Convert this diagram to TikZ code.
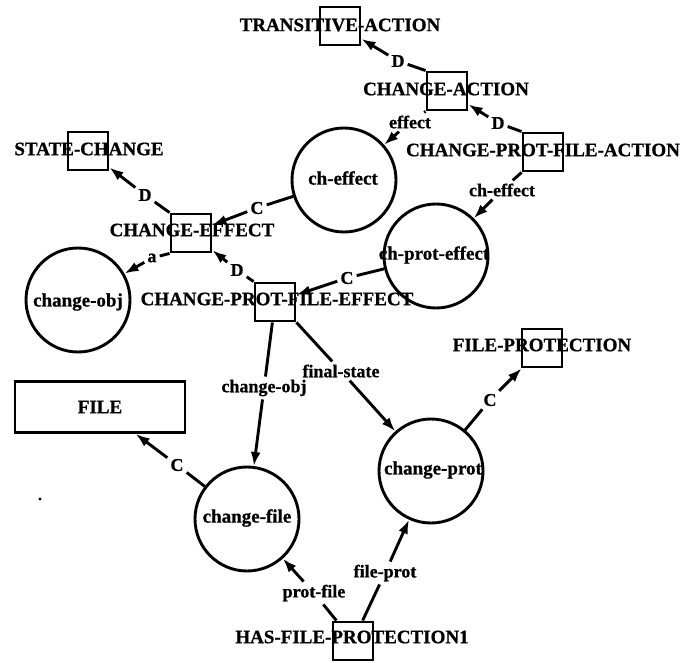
\documentclass[tikz,border=0pt]{standalone}
\usepackage{fontspec}
\setmainfont{Liberation Serif}[BoldFeatures={FakeBold=0.8}]
\usetikzlibrary{arrows.meta}
\begin{document}
\begin{tikzpicture}[x=1pt,y=-1pt,
  conc/.style={draw,line width=2.9pt,minimum width=40pt,minimum height=38pt,inner sep=0pt},
  rel/.style={draw,circle,line width=2.9pt,minimum size=104pt,inner sep=0pt},
  caps/.style={font=\fontsize{19}{19}\selectfont\bfseries,inner sep=0pt},
  ctext/.style={font=\fontsize{19}{19}\selectfont\bfseries,inner sep=0pt},
  elab/.style={font=\fontsize{18}{18}\selectfont\bfseries,inner sep=3pt},
  ln/.style={line width=2.9pt},
  arr/.style={line width=2.9pt,-{Latex[length=14pt,width=10pt]}},
]
\fill[white] (0,0) rectangle (685,663);
\useasboundingbox (0,0) rectangle (685,663);

% concept boxes
\node[conc] (ta) at (340,26) {};
\node[caps] (ta-t) at (340,25) {TRANSITIVE-ACTION};
\node[conc] (ca) at (447,91) {};
\node[caps] (ca-t) at (446,89) {CHANGE-ACTION};
\node[conc] (cpfa) at (543,152) {};
\node[caps] (cpfa-t) at (543,150) {CHANGE-PROT-FILE-ACTION};
\node[conc] (sc) at (88,151) {};
\node[caps] (sc-t) at (89,149) {STATE-CHANGE};
\node[conc] (ce) at (191,233) {};
\node[caps] (ce-t) at (192,230) {CHANGE-EFFECT};
\node[conc] (cpfe) at (275,302) {};
\node[caps] (cpfe-t) at (277,299) {CHANGE-PROT-FILE-EFFECT};
\node[conc] (fp) at (542,348) {};
\node[caps] (fp-t) at (542,345) {FILE-PROTECTION};
\node[conc] (hfp) at (353,641) {};
\node[caps] (hfp-t) at (352,637) {HAS-FILE-PROTECTION1};
\node[draw,line width=2.9pt,minimum width=170pt,minimum height=51pt,inner sep=0pt,
      font=\fontsize{19}{19}\selectfont\bfseries] (file) at (100,407) {FILE};

% relation circles
\node[rel] (che) at (344,180) {};
\node[ctext] (che-t) at (343,178) {ch-effect};
\node[rel] (chpe) at (436,256) {};
\node[ctext] (chpe-t) at (434,255) {ch-prot-effect};
\node[rel] (cobj) at (78,300) {};
\node[ctext] (cobj-t) at (78,302) {change-obj};
\node[rel] (cfile) at (247,519) {};
\node[ctext] (cfile-t) at (247,518) {change-file};
\node[rel] (cprot) at (431,471) {};
\node[ctext] (cprot-t) at (433,470) {change-prot};

% edge labels
\node[elab] (l1) at (398,61) {D};
\node[elab] (l2) at (498,123) {D};
\node[elab] (l3) at (410,122) {effect};
\node[elab] (l4) at (502,190) {ch-effect};
\node[elab] (l5) at (257,208) {C};
\node[elab] (l6) at (145,195) {D};
\node[elab] (l7) at (152,258) {a};
\node[elab] (l8) at (237,270) {D};
\node[elab] (l9) at (347,278) {C};
\node[elab] (l10) at (264,388) {change-obj};
\node[elab] (l11) at (341,371) {final-state};
\node[elab] (l12) at (490,400) {C};
\node[elab] (l13) at (177,465) {C};
\node[elab] (l14) at (314,593) {prot-file};
\node[elab] (l15) at (385,573) {file-prot};

% connectors
\draw[ln] (ca.north west) -- (l1);   \draw[arr] (l1) -- (ta);
\draw[ln] (cpfa.north west) -- (l2); \draw[arr] (l2) -- (ca);
\draw[ln] (ca.south west) -- (l3);   \draw[arr] (l3) -- (che);
\draw[ln] (cpfa.south west) -- (l4); \draw[arr] (l4) -- (chpe);
\draw[ln] (che) -- (l5);             \draw[arr] (l5) -- (ce);
\draw[ln] (ce.north west) -- (l6);   \draw[arr] (l6) -- (sc);
\draw[ln] (ce.south west) -- (l7);   \draw[arr] (l7) -- (cobj);
\draw[ln] (cpfe.north west) -- (l8); \draw[arr] (l8) -- (ce);
\draw[ln] (chpe) -- (l9);            \draw[arr] (l9) -- (cpfe);
\draw[ln] (cpfe) -- (l10);           \draw[arr] (l10) -- (cfile);
\draw[ln] (cpfe.south east) -- (l11);\draw[arr] (l11) -- (cprot);
\draw[ln] (cprot) -- (l12);          \draw[arr] (l12) -- (fp);
\draw[ln] (cfile) -- (l13);          \draw[arr] (l13) -- (file);
\draw[ln] (hfp) -- (l14);            \draw[arr] (l14) -- (cfile);
\draw[ln] (hfp) -- (l15);            \draw[arr] (l15) -- (cprot);

% stray mark
\fill (40,499) circle (1.6pt);
\end{tikzpicture}
\end{document}
